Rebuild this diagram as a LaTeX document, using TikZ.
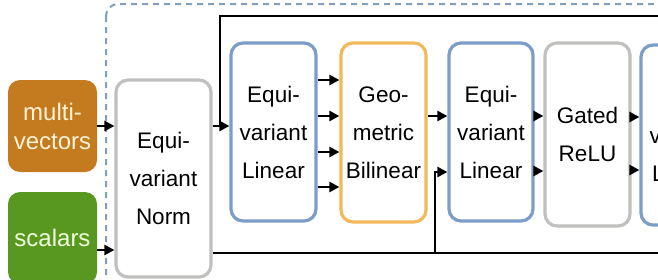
\documentclass[tikz,border=0pt]{standalone}
\usepackage{fontspec}
\setmainfont{Liberation Sans}
\usetikzlibrary{arrows.meta}
\definecolor{mvfill}{RGB}{196,122,30}
\definecolor{scfill}{RGB}{88,152,32}
\definecolor{mvtext}{RGB}{255,244,214}
\definecolor{sctext}{RGB}{240,255,222}
\definecolor{blueb}{RGB}{124,157,200}
\definecolor{orangeb}{RGB}{242,185,92}
\definecolor{grayb}{RGB}{192,192,190}
\definecolor{dashc}{RGB}{130,160,188}
\begin{document}
\begin{tikzpicture}[x=1pt,y=-1pt,
  box/.style={rounded corners=12pt, line width=3.2pt, inner sep=0pt, align=center,
    minimum width=85pt, minimum height=178pt, fill=white,
    font=\fontsize{22.5}{38}\selectfont},
  inbox/.style={rounded corners=12pt, inner sep=0pt, align=center,
    minimum width=89pt, font=\fontsize{24}{29}\selectfont},
  arr/.style={line width=2.8pt, -{Triangle[length=10pt,width=10pt]}},
  wire/.style={line width=2.8pt}]
\clip (0,0) rectangle (658,279);
\fill[white] (0,0) rectangle (658,279);
% dashed container
\draw[dashc, line width=2pt, dash pattern=on 6pt off 5pt, rounded corners=12pt]
  (106,4) rectangle (900,400);
% inputs
\node[inbox, fill=mvfill, text=mvtext, minimum height=92pt] (mv) at (52.5,126) {multi-\\vectors};
\node[inbox, fill=scfill, text=sctext, minimum height=92pt] (sc) at (52.5,238) {scalars};
% blocks
\node[box, draw=grayb, minimum width=95pt, minimum height=197pt] (norm) at (163.5,178.5) {Equi-\\variant\\Norm};
\node[box, draw=blueb] (lin1) at (273.5,132) {Equi-\\variant\\Linear};
\node[box, draw=orangeb, minimum height=179pt] (bil) at (383.5,132.5) {Geo-\\metric\\Bilinear};
\node[box, draw=blueb, minimum width=84pt] (lin2) at (491,132) {Equi-\\variant\\Linear};
\node[box, draw=grayb, minimum height=183pt] (gate) at (587.5,134.5) {Gated\\ReLU};
\node[box, draw=blueb, minimum height=180pt] (lin3) at (683.5,135) {Equi-\\variant\\Linear};
% connectors
\coordinate (topend) at (700,16);
\coordinate (botend) at (700,253);
\draw[arr] (mv.east) -- (mv.east -| norm.west);
\draw[arr] (sc.east |- 0,250) -- (norm.west |- 0,250);
\draw[arr] (norm.east |- mv.east) -- (lin1.west |- mv.east);
\draw[wire] (220,126) |- (topend);
\draw[wire] (norm.east |- botend) -- (botend);
\draw[arr] (435,253) |- (lin2.west |- 0,172);
\foreach \yy in {80,116,152,187}
  \draw[arr] (lin1.east |- 0,\yy) -- (bil.west |- 0,\yy);
\draw[arr] (bil.east |- 0,116) -- (lin2.west |- 0,116);
\foreach \yy in {116,171}
  \draw[arr] (lin2.east |- 0,\yy) -- (gate.west |- 0,\yy);
\foreach \yy in {117,170}
  \draw[arr] (gate.east |- 0,\yy) -- (lin3.west |- 0,\yy);
\end{tikzpicture}
\end{document}
